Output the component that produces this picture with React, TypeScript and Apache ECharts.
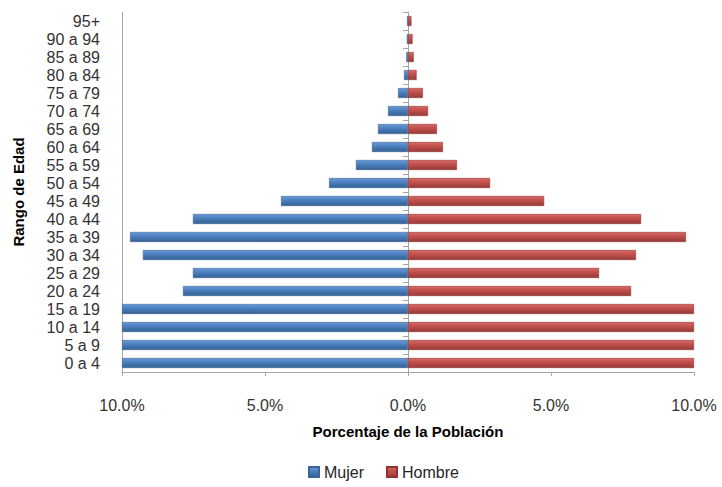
import React, { useEffect, useRef } from "react";
import * as echarts from "echarts";

const categories = [
  "0 a 4", "5 a 9", "10 a 14", "15 a 19", "20 a 24", "25 a 29", "30 a 34",
  "35 a 39", "40 a 44", "45 a 49", "50 a 54", "55 a 59", "60 a 64", "65 a 69",
  "70 a 74", "75 a 79", "80 a 84", "85 a 89", "90 a 94", "95+",
];
// Percent of population (Mujer shown to the left)
const mujer = [
  10.0, 10.0, 10.0, 10.0, 7.87, 7.52, 9.27, 9.72, 7.52, 4.44, 2.76, 1.82, 1.26,
  1.05, 0.7, 0.35, 0.14, 0.06, 0.04, 0.03,
];
const hombre = [
  10.0, 10.0, 10.0, 10.0, 7.8, 6.68, 7.97, 9.72, 8.15, 4.76, 2.87, 1.71, 1.22,
  1.01, 0.7, 0.52, 0.3, 0.2, 0.16, 0.12,
];
const xTicks = { min: -10, max: 10, interval: 5 };

const FONT = "'Liberation Sans', Arial, sans-serif";

export default function App() {
  const ref = useRef<HTMLDivElement>(null);
  useEffect(() => {
    if (!ref.current) return;
    const chart = echarts.init(ref.current, undefined, { renderer: "svg" });
    const blueGrad = new echarts.graphic.LinearGradient(0, 0, 0, 1, [
      { offset: 0, color: "#6a9ad6" },
      { offset: 0.45, color: "#4a7ebd" },
      { offset: 1, color: "#355f92" },
    ]);
    const redGrad = new echarts.graphic.LinearGradient(0, 0, 0, 1, [
      { offset: 0, color: "#d96966" },
      { offset: 0.45, color: "#c04f4c" },
      { offset: 1, color: "#963a37" },
    ]);
    chart.setOption({
      animation: false,
      textStyle: { fontFamily: FONT },
      grid: { left: 122, right: 28, top: 12, bottom: 115 },
      legend: {
        data: ["Mujer", "Hombre"],
        left: 303,
        top: 459,
        icon: "rect",
        itemWidth: 10,
        itemHeight: 10,
        itemGap: 22,
        textStyle: { fontSize: 16, color: "#262626", fontFamily: FONT },
      },
      xAxis: {
        type: "value",
        min: xTicks.min,
        max: xTicks.max,
        interval: xTicks.interval,
        axisLine: { show: true, onZero: false, lineStyle: { color: "#a6a6a6" } },
        axisTick: { show: true, length: 4, lineStyle: { color: "#a6a6a6" } },
        splitLine: { show: false },
        axisLabel: {
          margin: 25,
          fontSize: 16,
          color: "#333",
          fontFamily: FONT,
          formatter: (v: number) => Math.abs(v).toFixed(1) + "%",
        },
        name: "Porcentaje de la Población",
        nameLocation: "middle",
        nameGap: 52,
        nameTextStyle: { fontSize: 15, fontWeight: "bold", color: "#000", fontFamily: FONT },
      },
      yAxis: [
        {
          type: "category",
          data: categories,
          position: "left",
          axisLine: { show: true, onZero: false, lineStyle: { color: "#a6a6a6", width: 1 } },
          axisTick: { show: false },
          axisLabel: {
            interval: 0,
            margin: 22,
            fontSize: 16,
            lineHeight: 17,
            color: "#333",
            fontFamily: FONT,
          },
          name: "Rango de Edad",
          nameLocation: "middle",
          nameRotate: 90,
          nameGap: 96,
          nameTextStyle: {
            fontSize: 15,
            fontWeight: "bold",
            color: "#000",
            fontFamily: FONT,
          },
        },
        {
          type: "category",
          data: categories,
          position: "right",
          axisLine: { show: true, onZero: true, lineStyle: { color: "#a6a6a6", width: 1 } },
          axisTick: { show: true, inside: true, length: 5, lineStyle: { color: "#a6a6a6" } },
          axisLabel: { show: false },
        },
      ],
      series: [
        {
          name: "Mujer",
          type: "bar",
          stack: "total",
          yAxisIndex: 0,
          barWidth: 10,
          itemStyle: { color: blueGrad, borderColor: "#3b6496", borderWidth: 0.6 },
          data: mujer.map((v) => -v),
        },
        {
          name: "Hombre",
          type: "bar",
          stack: "total",
          yAxisIndex: 0,
          barWidth: 10,
          itemStyle: { color: redGrad, borderColor: "#8e3633", borderWidth: 0.6 },
          data: hombre,
        },
      ],
      color: ["#4F81BD", "#C0504D"],
    });
    return () => chart.dispose();
  }, []);
  return <div ref={ref} style={{ width: 722, height: 487, position: "absolute", left: 0, top: 0 }} />;
}
